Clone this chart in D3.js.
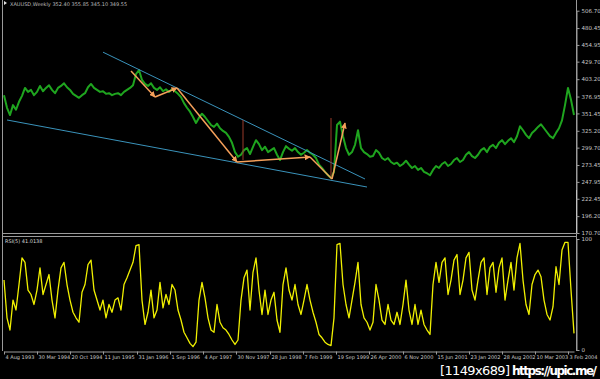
<!DOCTYPE html>
<html>
<head>
<meta charset="utf-8">
<script src="https://cdn.jsdelivr.net/npm/d3@7"></script>
<style>
html, body { margin: 0; background: #000; }
svg { display: block; }
</style>
</head>
<body>
<svg width="600" height="379"></svg>
<script>
// one value every 3 weeks
const weekStep = 3

const price = [
  379, 360, 349, 364, 357, 369, 378, 390, 384, 387,
  379, 384, 393, 385, 390, 394, 387, 382, 390, 393,
  397, 391, 387, 381, 378, 375, 379, 382, 391, 396,
  390, 387, 384, 385, 381, 382, 379, 381, 382, 379,
  384, 387, 390, 394, 411, 417, 402, 396, 393, 397,
  390, 387, 391, 385, 388, 384, 388, 385, 381, 376,
  367, 360, 354, 346, 337, 345, 351, 346, 340, 334,
  331, 336, 329, 325, 322, 316, 307, 293, 286, 289,
  296, 299, 290, 301, 311, 305, 296, 301, 293, 296,
  299, 289, 281, 293, 302, 298, 295, 299, 293, 289,
  292, 296, 292, 289, 284, 274, 269, 263, 258, 254,
  263, 334, 339, 317, 299, 289, 293, 304, 326, 299,
  293, 290, 286, 287, 296, 292, 284, 281, 284, 278,
  275, 277, 272, 275, 280, 274, 269, 272, 266, 269,
  263, 261, 258, 266, 272, 269, 275, 278, 272, 275,
  281, 284, 278, 281, 289, 293, 287, 284, 289, 296,
  299, 293, 301, 304, 299, 307, 311, 305, 310, 314,
  308, 317, 332, 326, 319, 314, 322, 326, 331, 335,
  329, 323, 317, 314, 322, 329, 341, 364, 390, 372,
  349
]

const rsi = [
  63, 29, 18, 45, 36, 59, 83, 79, 54, 50,
  41, 54, 74, 50, 59, 68, 45, 29, 54, 74,
  79, 59, 45, 34, 29, 25, 52, 59, 77, 81,
  54, 45, 36, 45, 29, 41, 34, 45, 47, 36,
  59, 65, 72, 79, 94, 95, 45, 23, 34, 54,
  29, 36, 61, 38, 50, 41, 59, 54, 36, 27,
  16, 11, 6, 3, 7, 45, 61, 47, 29, 18,
  16, 41, 25, 20, 18, 14, 9, 5, 9, 45,
  65, 72, 36, 70, 83, 54, 32, 54, 32, 45,
  52, 27, 16, 59, 74, 54, 45, 59, 41, 32,
  45, 59, 45, 34, 25, 14, 11, 7, 5, 4,
  29, 95, 96, 59, 41, 29, 45, 61, 79, 41,
  29, 25, 18, 25, 59, 45, 27, 23, 41, 27,
  23, 34, 23, 41, 63, 36, 23, 41, 23, 36,
  23, 18, 14, 59, 79, 61, 79, 83, 50, 63,
  81, 86, 50, 63, 83, 88, 54, 45, 63, 79,
  83, 50, 74, 79, 52, 74, 83, 45, 63, 79,
  54, 83, 96, 63, 41, 32, 59, 68, 72, 66,
  45, 32, 27, 39, 75, 59, 90, 97, 97, 54,
  15
]

const priceTicks = [506.70, 480.45, 454.95, 429.70, 403.20, 376.95, 351.45,
  325.20, 299.70, 273.45, 247.95, 222.45, 196.20, 170.70]
const rsiTicks = [100, 0]

const dateWeeks = [0, 33, 66, 99, 133, 166, 199, 232, 266, 299, 332, 365, 399, 432, 465, 498, 531, 564]
const dateLabels = ["4 Aug 1993", "30 Mar 1994", "20 Oct 1994", "11 Jun 1995", "31 Jan 1996",
  "1 Sep 1996", "4 Apr 1997", "30 Nov 1997", "28 Jun 1998", "7 Feb 1999", "19 Sep 1999",
  "26 Apr 2000", "6 Nov 2000", "15 Jun 2001", "23 Jan 2002", "28 Aug 2002", "10 Mar 2003",
  "3 Feb 2004"]

// drawn objects, in weeks / price
const channel = [
  [{w: 99, p: 444}, {w: 361, p: 252.3}],
  [{w: 3, p: 341.5}, {w: 363, p: 240.2}]
]
const waves = [
  {w: 127, p: 415.6}, {w: 151, p: 376.3}, {w: 173, p: 389.9}, {w: 233, p: 278},
  {w: 306, p: 285.6}, {w: 328, p: 252.3}, {w: 341, p: 337}
]
const waveArrow = [true, true, true, true, false, true]
const spikes = [
  {w: 239, hi: 341.5, lo: 281},
  {w: 327, hi: 344.5, lo: 253.8}
]

const svg = d3.select("svg")
  .style("background", "#000")

const x = d3.scaleLinear().domain([0, 570]).range([4, 574])
const yP = d3.scaleLinear().domain([170.7, 506.7]).range([233, 10.7])
const yR = d3.scaleLinear().domain([0, 100]).range([350, 239])

const defs = svg.append("defs")
defs.append("clipPath").attr("id", "cp")
  .append("rect").attr("x", 3).attr("y", 0).attr("width", 573).attr("height", 233)
defs.append("clipPath").attr("id", "cr")
  .append("rect").attr("x", 3).attr("y", 237).attr("width", 573).attr("height", 114)
defs.append("marker")
  .attr("id", "ah")
  .attr("viewBox", "0 0 10 10")
  .attr("refX", 9).attr("refY", 5)
  .attr("markerWidth", 6).attr("markerHeight", 6)
  .attr("markerUnits", "userSpaceOnUse")
  .attr("orient", "auto")
  .append("path")
  .attr("d", "M0,0 L10,5 L0,10 Z")
  .attr("fill", "#f5a05a")

// frame
const grey = "#9a9a9a"
svg.append("line").attr("x1", 2.5).attr("x2", 2.5).attr("y1", 0).attr("y2", 351)
  .attr("stroke", grey)
svg.append("line").attr("x1", 2.5).attr("x2", 576.5).attr("y1", 233.5).attr("y2", 233.5)
  .attr("stroke", grey)
svg.append("line").attr("x1", 2.5).attr("x2", 576.5).attr("y1", 236.5).attr("y2", 236.5)
  .attr("stroke", grey)
svg.append("line").attr("x1", 576.5).attr("x2", 576.5).attr("y1", 0).attr("y2", 351)
  .attr("stroke", grey)
svg.append("line").attr("x1", 576.5).attr("x2", 576.5).attr("y1", 190).attr("y2", 233)
  .attr("stroke", "#e8e8e8")

// price line
const priceLine = d3.line()
  .x((d, i) => x(i * weekStep))
  .y(d => yP(d))

svg.append("path")
  .datum(price)
  .attr("clip-path", "url(#cp)")
  .attr("d", priceLine)
  .attr("fill", "none")
  .attr("stroke", "#1fa51f")
  .attr("stroke-width", 2)
  .attr("stroke-linejoin", "round")

// channel lines
svg.selectAll(".chan")
  .data(channel).enter()
  .append("line")
  .attr("x1", d => x(d[0].w)).attr("y1", d => yP(d[0].p))
  .attr("x2", d => x(d[1].w)).attr("y2", d => yP(d[1].p))
  .attr("stroke", "#3a93bb")
  .attr("stroke-width", 1)

// vertical marks
svg.selectAll(".spike")
  .data(spikes).enter()
  .append("line")
  .attr("x1", d => x(d.w)).attr("x2", d => x(d.w))
  .attr("y1", d => yP(d.hi)).attr("y2", d => yP(d.lo))
  .attr("stroke", "#9a3b2b")
  .attr("stroke-width", 1)

// wave arrows
svg.selectAll(".wave")
  .data(d3.pairs(waves)).enter()
  .append("line")
  .attr("x1", d => x(d[0].w)).attr("y1", d => yP(d[0].p))
  .attr("x2", d => x(d[1].w)).attr("y2", d => yP(d[1].p))
  .attr("stroke", "#f5a05a")
  .attr("stroke-width", 1.5)
  .attr("marker-end", (d, i) => waveArrow[i] ? "url(#ah)" : null)

// rsi line
const rsiLine = d3.line()
  .x((d, i) => x(i * weekStep))
  .y(d => yR(d))

svg.append("path")
  .datum(rsi)
  .attr("clip-path", "url(#cr)")
  .attr("d", rsiLine)
  .attr("fill", "none")
  .attr("stroke", "#f0f000")
  .attr("stroke-width", 1.3)
  .attr("stroke-linejoin", "round")

// axes
const priceAxis = svg.append("g")
  .attr("transform", "translate(576.5,0)")
  .call(d3.axisRight(yP).tickValues(priceTicks).tickSize(3).tickSizeOuter(0)
    .tickFormat(d3.format(".2f")))
const rsiAxis = svg.append("g")
  .attr("transform", "translate(576.5,0)")
  .call(d3.axisRight(yR).tickValues(rsiTicks).tickSize(3).tickSizeOuter(0))
const dateAxis = svg.append("g")
  .attr("transform", "translate(0,351.5)")
  .call(d3.axisBottom(x).tickValues(dateWeeks).tickSize(3).tickSizeOuter(0)
    .tickFormat((d, i) => dateLabels[i]))

;[priceAxis, rsiAxis, dateAxis].forEach(g => {
  g.select(".domain").attr("stroke", grey)
  g.selectAll(".tick line").attr("stroke", grey)
  g.selectAll(".tick text")
    .attr("fill", "#c8c8c8")
    .attr("font-family", "DejaVu Sans")
    .attr("font-size", "5.5px")
})
priceAxis.selectAll(".tick text").attr("x", 5)
rsiAxis.selectAll(".tick text").attr("x", 5)
dateAxis.selectAll(".tick text")
  .attr("text-anchor", "start")
  .attr("x", 1)
  .attr("y", 4)
  .attr("font-size", "5px")

// labels
svg.append("path")
  .attr("d", "M4,1 L7,3 L4,5 Z")
  .attr("fill", "#e0e0e0")
svg.append("text")
  .attr("x", 10).attr("y", 6)
  .attr("fill", "#bdbdbd")
  .attr("font-family", "DejaVu Sans")
  .attr("font-size", "5px")
  .text("XAUUSD,Weekly  352.40 355.85 345.10 349.55")
svg.append("text")
  .attr("x", 5).attr("y", 243)
  .attr("fill", "#d8d8d8")
  .attr("font-family", "DejaVu Sans")
  .attr("font-size", "5px")
  .text("RSI(5) 41.0138")

// watermark
svg.append("text")
  .attr("x", 440).attr("y", 375)
  .attr("fill", "#fff")
  .attr("font-family", "DejaVu Sans")
  .attr("font-size", "13px")
  .attr("textLength", 70)
  .text("[1149x689]")
svg.append("text")
  .attr("x", 512).attr("y", 375)
  .attr("fill", "#fff")
  .attr("font-family", "DejaVu Sans")
  .attr("font-weight", "bold")
  .attr("font-size", "12px")
  .attr("textLength", 85)
  .text("https://upic.me/")
</script>
</body>
</html>
